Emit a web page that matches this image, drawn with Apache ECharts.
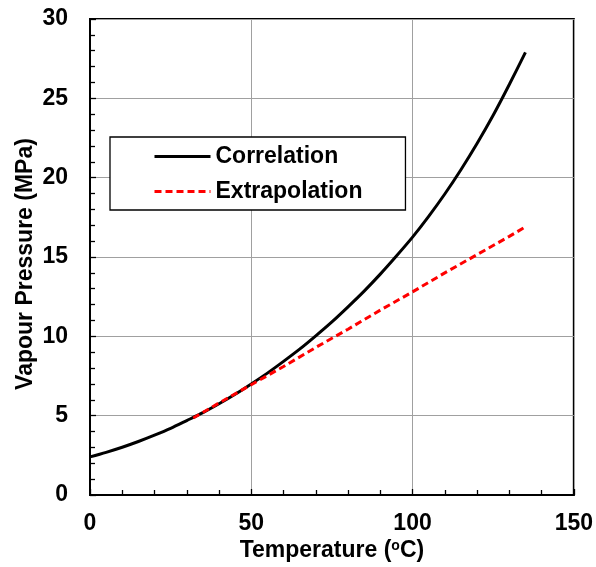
<!DOCTYPE html>
<html>
<head>
<meta charset="utf-8">
<script src="https://cdn.jsdelivr.net/npm/echarts@6/dist/echarts.min.js"></script>
<style>html,body{margin:0;padding:0;background:#fff;}#c{width:596px;height:567px;}</style>
</head>
<body>
<div id="c"></div>
<script>
var corrT = [0,5,10,15,20,25,30,35,40,45,50,55,60,65,70,75,80,85,90,95,100,105,110,115,120,125,130,135];
var corrP = [2.4,2.69,3.01,3.37,3.77,4.2,4.69,5.19,5.75,6.35,7.0,7.68,8.42,9.19,10.03,10.91,11.86,12.85,13.92,15.06,16.25,17.56,18.97,20.5,22.15,23.93,25.87,27.9];
var extT = [32,40,50,60,70,80,90,100,110,120,130,135];
var extP = [4.85,5.8,6.95,8.1,9.3,10.45,11.65,12.8,14.0,15.15,16.3,16.9];
var seriesNames = ['Correlation','Extrapolation'];
var xTicks = {min:0,max:150,interval:50};
var yTicks = {min:0,max:30,interval:5};

function pairs(a,b){return a.map(function(v,i){return [v,b[i]];});}
var FONT = 'Arial, "Liberation Sans", sans-serif';
var chart = echarts.init(document.getElementById('c'));
chart.setOption({
  animation:false,
  backgroundColor:'#fff',
  grid:{left:90,right:22,top:19,bottom:72,show:true,borderColor:'#000',borderWidth:2,backgroundColor:'transparent'},
  legend:{
    orient:'vertical',left:110,top:137,
    padding:[8,43,7,43],itemGap:12,itemWidth:56,itemHeight:16,
    backgroundColor:'#fff',borderColor:'#000',borderWidth:1.3,
    itemStyle:{opacity:0},
    lineStyle:{width:3},
    textStyle:{fontFamily:FONT,fontWeight:'bold',fontSize:23,color:'#000'},
    data:seriesNames
  },
  xAxis:{
    type:'value',min:xTicks.min,max:xTicks.max,interval:xTicks.interval,
    name:'{a|Temperature (}{s|o}{a|C)}',nameLocation:'middle',nameGap:44,nameMoveOverlap:false,
    nameTextStyle:{rich:{a:{fontFamily:FONT,fontWeight:'bold',fontSize:23,color:'#000'},s:{fontFamily:FONT,fontWeight:'bold',fontSize:14,color:'#000',verticalAlign:'top',padding:[0,0,9,0]}}},
    axisLine:{lineStyle:{color:'#000',width:2}},
    axisTick:{inside:true,length:6,lineStyle:{color:'#000',width:1.3}},
    minorTick:{show:true,splitNumber:5,length:5,lineStyle:{color:'#000',width:1.3}},
    axisLabel:{margin:17,fontFamily:FONT,fontWeight:'bold',fontSize:23,color:'#000'},
    splitLine:{show:true,lineStyle:{color:'#a0a0a0',width:1}}
  },
  yAxis:{
    type:'value',min:yTicks.min,max:yTicks.max,interval:yTicks.interval,
    name:'Vapour Pressure (MPa)',nameLocation:'middle',nameGap:53,nameMoveOverlap:false,
    nameTextStyle:{fontFamily:FONT,fontWeight:'bold',fontSize:23,color:'#000',padding:[0,14,0,0]},
    axisLine:{lineStyle:{color:'#000',width:2}},
    axisTick:{inside:true,length:6,lineStyle:{color:'#000',width:1.3}},
    minorTick:{show:true,splitNumber:5,length:5,lineStyle:{color:'#000',width:1.3}},
    axisLabel:{margin:22,fontFamily:FONT,fontWeight:'bold',fontSize:23,color:'#000'},
    splitLine:{show:true,lineStyle:{color:'#a0a0a0',width:1}}
  },
  series:[
    {name:seriesNames[0],type:'line',data:pairs(corrT,corrP),smooth:0.3,symbol:'none',
     lineStyle:{color:'#000',width:3},itemStyle:{color:'#000'},z:3},
    {name:seriesNames[1],type:'line',data:pairs(extT,extP),smooth:false,symbol:'none',
     lineStyle:{color:'#ff0000',width:3,type:[7,4]},itemStyle:{color:'#ff0000'},z:4}
  ]
});
</script>
</body>
</html>
